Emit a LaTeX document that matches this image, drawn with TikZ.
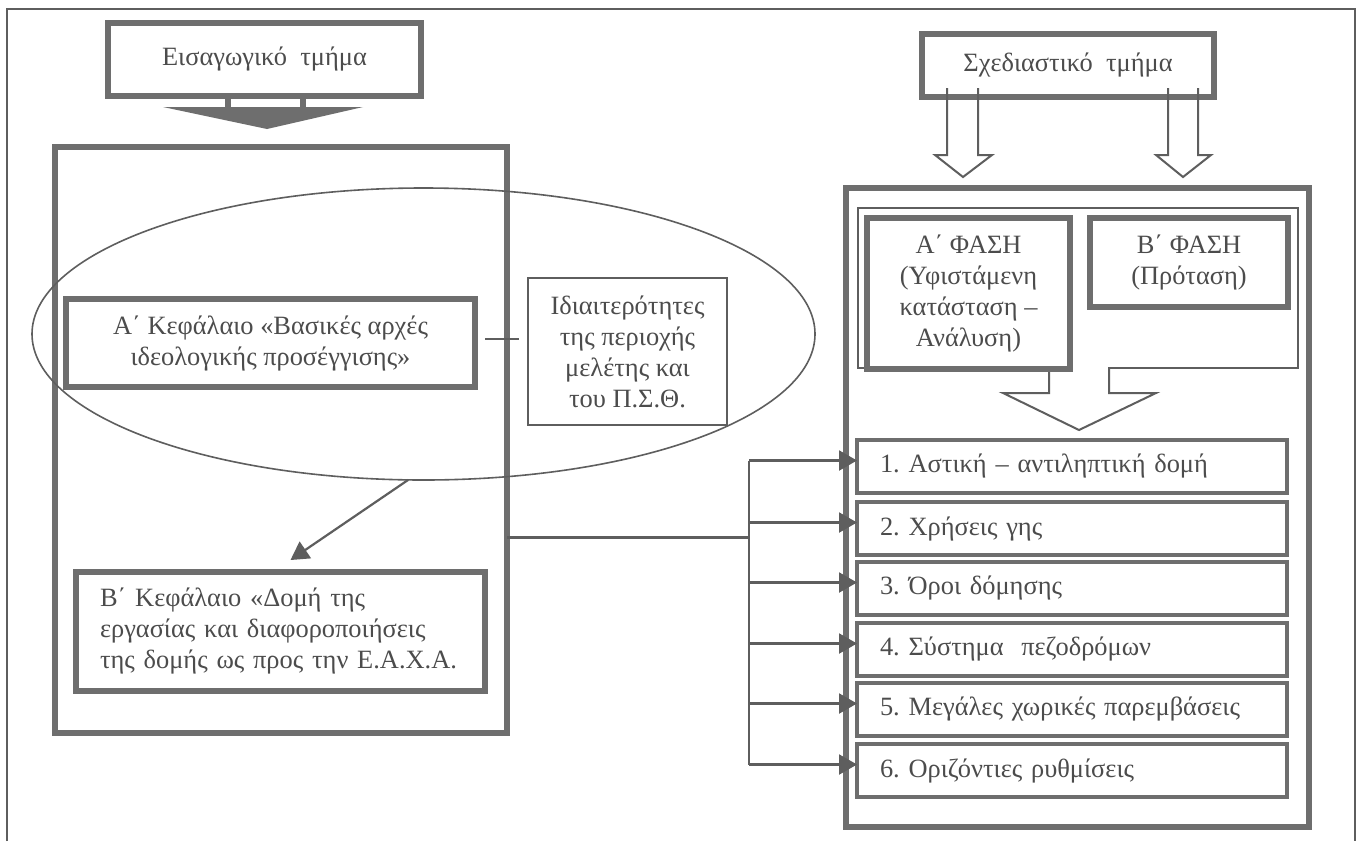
\documentclass[tikz,border=0pt]{standalone}
\usepackage{fontspec}
\setmainfont{Liberation Serif}
\usetikzlibrary{arrows.meta,shapes.geometric,calc}
\definecolor{ink}{HTML}{4C4C4C}
\definecolor{edgegray}{HTML}{6E6E6E}
\definecolor{thingray}{HTML}{5E5E5E}
\frenchspacing
\begin{document}
\begin{tikzpicture}[x=0.5pt,y=-0.5pt,
  every node/.style={font=\fontsize{13.2}{15.5}\selectfont, text=ink, outer sep=0pt},
  thickbox/.style={draw=edgegray, line width=3.2pt, fill=white, inner sep=0pt, align=center},
  itembox/.style={draw=edgegray, line width=1.8pt, fill=white, inner sep=0pt,
     minimum width=215pt, minimum height=26.5pt, text width=192pt, align=left},
  thinbox/.style={draw=thingray, line width=1pt, fill=white, inner sep=0pt, align=center},
  conn/.style={draw=thingray, line width=1.1pt},
  arrowed/.style={-{Triangle[length=9pt,width=10pt]}},
  hollow/.style={draw=thingray, line width=1pt, line join=miter},
]
\useasboundingbox (0,0) rectangle (1358,841);
\fill[white] (0,0) rectangle (1358,841);

% outer frame
\draw[draw=thingray, line width=0.9pt] (7,841) -- (7,9) -- (1355,9) -- (1355,841);

% ---------------- left part ----------------
\node[thickbox, minimum width=156.5pt, minimum height=36.5pt] (intro) at (264.5,59.5) {Εισαγωγικό\ \ τμήμα};
\fill[edgegray] ($(intro.south)+(-101.5,11)$) -- ($(intro.south)+(2.5,33)$) -- ($(intro.south)+(98.5,11)$) -- cycle;
\draw[draw=edgegray, line width=3.2pt] ($(intro.south)+(-36.5,0)$) -- ($(intro.south)+(-36.5,12)$);
\draw[draw=edgegray, line width=3.2pt] ($(intro.south)+(38.5,0)$) -- ($(intro.south)+(38.5,12)$);

\node[draw=edgegray, line width=3.2pt, inner sep=0pt, minimum width=226pt, minimum height=293pt] (lb) at (281,440) {};

\node[draw=thingray, line width=0.8pt, ellipse, inner sep=0pt, minimum width=391.5pt, minimum height=146pt] (ell) at (423.5,334) {};

\node[thickbox, minimum width=204.5pt, minimum height=44pt] (ka) at (270.5,343) {Α΄ Κεφάλαιο «Βασικές αρχές\\ιδεολογικής προσέγγισης»};

\node[thinbox, minimum width=99.5pt, minimum height=73.5pt] (idio) at (627.5,351.5) {Ιδιαιτερότητες\\της περιοχής\\μελέτης και\\του Π.Σ.Θ.};

\coordinate (m) at ($(ka.east)+(0,-4)$);
\draw[conn, shorten <=5pt, shorten >=4.5pt] (m) -- (m -| idio.west);

\node[thickbox, minimum width=204.5pt, minimum height=59.5pt, text width=180.5pt, align=left] (kb) at (280.5,631.5) {Β΄ Κεφάλαιο «Δομή της\\εργασίας και διαφοροποιήσεις\\της δομής ως προς την Ε.Α.Χ.Α.};

\coordinate (kbtip) at ($(kb.north)+(10,-12)$);
\draw[conn, arrowed] (ell.-96) -- (kbtip);

% ---------------- right part ----------------
\node[thickbox, minimum width=146pt, minimum height=31.5pt] (plan) at (1068,65.5) {Σχεδιαστικό\ \ τμήμα};

\draw[hollow] (947,88) -- (947,155) -- (935,155) -- (963,177) -- (992,155) -- (978,155) -- (978,88);
\draw[hollow] (1168,88) -- (1168,155) -- (1156,155) -- (1183,177) -- (1211,155) -- (1198,155) -- (1198,88);

\node[draw=edgegray, line width=3pt, inner sep=0pt, minimum width=231.5pt, minimum height=319.5pt] (rp) at (1077.5,507.5) {};

\node[draw=thingray, line width=1pt, inner sep=0pt, minimum width=220pt, minimum height=80pt] (grp) at (1078,288) {};

\fill[white] (1049,364) -- (1049,393) -- (1003,393) -- (1079,430) -- (1156,393) -- (1109,393) -- (1109,364) -- cycle;
\draw[hollow] (1049,369) -- (1049,393) -- (1003,393) -- (1079,430) -- (1156,393) -- (1109,393) -- (1109,367);

\node[thickbox, minimum width=101.5pt, minimum height=75.5pt] (pa) at (968.5,293.5) {Α΄ ΦΑΣΗ\\(Υφιστάμενη\\κατάσταση –\\Ανάλυση)};
\node[thickbox, minimum width=99pt, minimum height=44.5pt] (pb) at (1189,262.5) {Β΄ ΦΑΣΗ\\(Πρόταση)};

\node[itembox] (i1) at (1072,466.5) {1. Αστική – αντιληπτική δομή};
\node[itembox] (i2) at (1072,528.5) {2. Χρήσεις γης};
\node[itembox] (i3) at (1072,588.5) {3. Όροι δόμησης};
\node[itembox] (i4) at (1072,649.5) {4. Σύστημα\ \ πεζοδρόμων};
\node[itembox] (i5) at (1072,709.5) {5. Μεγάλες χωρικές παρεμβάσεις};
\node[itembox] (i6) at (1072,770.5) {6. Οριζόντιες ρυθμίσεις};

% bus connectors
\coordinate (j) at (749,537);
\draw[conn, line width=1.5pt] (lb.east |- j) -- (j);
\foreach \k in {1,...,6} {
  \coordinate (b\k) at ($(i\k.west -| j)+(0,-6)$);
}
\draw[conn] (b1) -- (b6);
\foreach \k in {1,...,6} {
  \draw[conn, arrowed] (b\k) -- (b\k -| i\k.west);
}
\end{tikzpicture}
\end{document}
